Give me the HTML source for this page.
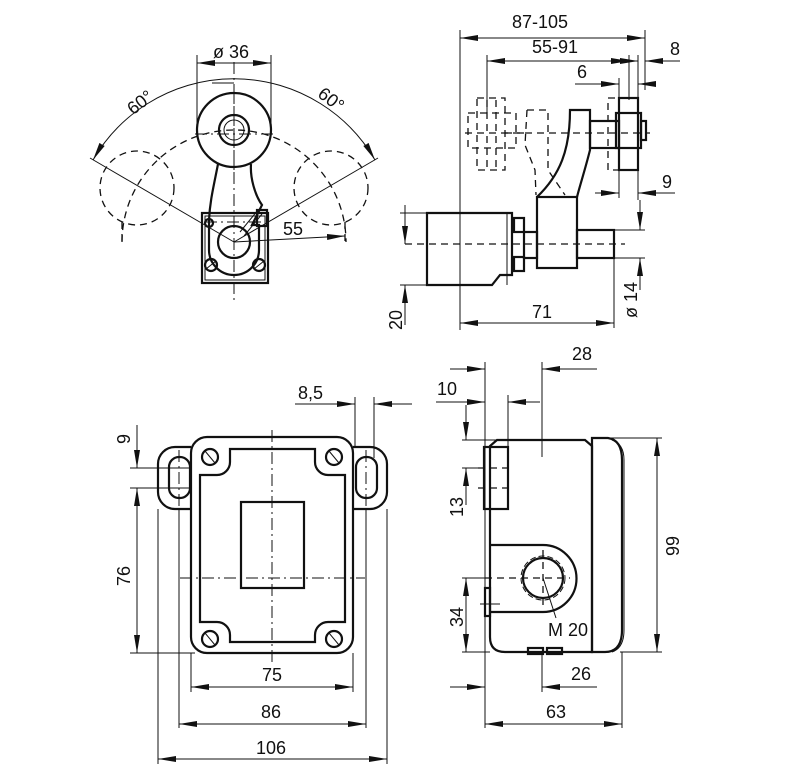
<!DOCTYPE html>
<html><head><meta charset="utf-8"><style>
html,body{margin:0;padding:0;background:#fff}
svg{display:block}
text{font-family:"Liberation Sans",sans-serif;font-size:18px;fill:#111}
.t{stroke:#111;stroke-width:2.2;fill:none}
.th{stroke:#111;stroke-width:1;fill:none}
.d{stroke:#111;stroke-width:1.3;fill:none;stroke-dasharray:7 5}
.c{stroke:#111;stroke-width:1;fill:none;stroke-dasharray:12 4 2 4}
.dm{stroke:#111;stroke-width:1;fill:none;marker-start:url(#a);marker-end:url(#a)}
.dr{stroke:#111;stroke-width:1;fill:none;marker-end:url(#a)}
</style></head><body>
<svg width="805" height="783" viewBox="0 0 805 783" xmlns="http://www.w3.org/2000/svg">
<defs><marker id="a" viewBox="0 0 18 6" refX="18" refY="3" markerWidth="18" markerHeight="6" markerUnits="userSpaceOnUse" orient="auto-start-reverse"><path d="M0,0 L18,3 L0,6 z" fill="#111"/></marker></defs>

<!-- ===== TOP LEFT: lever view ===== -->
<line class="c" x1="234" y1="62" x2="234" y2="300"/>
<line class="th" x1="197" y1="55" x2="197" y2="130"/>
<line class="th" x1="271" y1="55" x2="271" y2="130"/>
<line class="dm" x1="197" y1="63" x2="271" y2="63"/>
<text x="213" y="58">ø 36</text>
<!-- 60 deg arc -->
<path class="th" d="M93,160 A163,163 0 0 1 375,160" style="marker-start:url(#a);marker-end:url(#a)"/>
<line class="dr" x1="234" y1="83" x2="212" y2="83" style="marker-end:none"/>
<line class="th" x1="234" y1="242" x2="90" y2="158"/>
<line class="th" x1="234" y1="242" x2="378" y2="158"/>
<text x="125" y="108" transform="rotate(-38 140 100)">60°</text>
<text x="318" y="108" transform="rotate(38 335 100)">60°</text>
<!-- dashed alt rollers -->
<circle class="d" cx="137" cy="188" r="37"/>
<circle class="d" cx="331" cy="188" r="37"/>
<path class="d" d="M122,242 A112,112 0 0 1 346,242"/>
<line class="d" x1="122" y1="222" x2="122" y2="245"/>
<line class="d" x1="345" y1="222" x2="345" y2="245"/>
<line class="dr" x1="234" y1="242" x2="345" y2="236"/>
<text x="283" y="235">55</text>
<!-- base plate -->
<rect class="t" x="202" y="213" width="66" height="70"/>
<rect class="th" x="205" y="216" width="60" height="64"/>
<circle class="t" cx="211" cy="265" r="6"/><line class="th" x1="206" y1="269" x2="216" y2="261"/>
<circle class="t" cx="259" cy="265" r="6"/><line class="th" x1="254" y1="269" x2="264" y2="261"/>
<!-- lever -->
<path class="t" d="M218,164 C214,185 210,200 209,220 L209,250 A25,25 0 0 0 259,250 L259,225 L252,225 L262,205 C255,195 250,178 251,164"/>
<circle class="t" cx="234" cy="242" r="16"/>
<line class="th" x1="240" y1="232" x2="258" y2="210"/><line class="th" x1="244" y1="236" x2="262" y2="214"/>
<rect class="t" x="257" y="210" width="10" height="16"/>
<circle class="t" cx="209" cy="223" r="4"/>
<line class="c" x1="205" y1="222" x2="265" y2="222"/>
<!-- roller -->
<circle class="t" cx="234" cy="130" r="37" fill="#fff"/>
<circle class="t" cx="234" cy="130" r="15"/>
<circle class="th" cx="234" cy="130" r="10"/>
<line class="c" x1="195" y1="134" x2="273" y2="134"/>
<line class="c" x1="234" y1="92" x2="234" y2="175"/>

<!-- ===== TOP RIGHT: side view ===== -->
<line class="th" x1="460" y1="30" x2="460" y2="330"/>
<line class="th" x1="645" y1="30" x2="645" y2="90"/>
<line class="dm" x1="460" y1="38" x2="645" y2="38"/>
<text x="512" y="28">87-105</text>
<line class="th" x1="487" y1="55" x2="487" y2="115"/>
<line class="dm" x1="487" y1="61" x2="629" y2="61"/>
<text x="532" y="53">55-91</text>
<line class="dr" x1="680" y1="61" x2="645" y2="61"/>
<line class="th" x1="629" y1="61" x2="638" y2="61" style="marker-end:url(#a)"/>
<text x="670" y="55">8</text>
<line class="th" x1="638" y1="55" x2="638" y2="200"/>
<line class="th" x1="629" y1="55" x2="629" y2="100"/>
<line class="dr" x1="575" y1="84" x2="619" y2="84"/>
<line class="dr" x1="650" y1="84" x2="638" y2="84"/>
<text x="577" y="78">6</text>
<line class="th" x1="619" y1="78" x2="619" y2="198"/>
<line class="dr" x1="595" y1="193" x2="619" y2="193"/>
<line class="dr" x1="675" y1="193" x2="638" y2="193"/>
<text x="662" y="188">9</text>
<!-- dashed ghost -->
<rect class="d" x="477" y="98" width="28" height="72"/>
<rect class="d" x="468" y="113" width="48" height="35"/>
<line class="d" x1="487" y1="100" x2="487" y2="170"/>
<line class="d" x1="496" y1="100" x2="496" y2="170"/>
<path class="d" d="M527,110 L548,110 L548,170 L565,195 M527,110 L525,145 L535,170 L536,195"/>
<line class="d" x1="505" y1="133" x2="528" y2="133"/>
<rect class="d" x="608" y="98" width="30" height="72"/>
<!-- center lines -->
<line class="d" x1="465" y1="133" x2="650" y2="133"/>
<line class="d" x1="405" y1="244" x2="625" y2="244"/>
<!-- housing -->
<path class="t" d="M427,213 L512,213 L512,275 L500,275 L492,285 L427,285 Z"/>
<line class="th" x1="507" y1="213" x2="507" y2="285"/>
<rect class="t" x="514" y="218" width="10" height="14"/>
<rect class="t" x="514" y="257" width="10" height="14"/>
<rect class="t" x="524" y="232" width="13" height="26"/>
<rect class="t" x="537" y="197" width="40" height="71"/>
<rect class="t" x="577" y="230" width="37" height="28"/>
<path class="t" d="M537,197 C560,175 570,150 570,110 L590,110 L590,150 C585,170 580,185 577,197"/>
<rect class="t" x="590" y="121" width="29" height="27"/>
<rect class="t" x="619" y="98" width="19" height="72"/>
<rect class="t" x="616" y="113" width="25" height="35"/>
<rect class="t" x="641" y="121" width="5" height="19"/>
<!-- 20 and ø14 -->
<line class="th" x1="400" y1="213" x2="427" y2="213"/>
<line class="th" x1="400" y1="285" x2="427" y2="285"/>
<line class="dr" x1="405" y1="205" x2="405" y2="244" style="marker-end:none"/>
<line class="dr" x1="405" y1="226" x2="405" y2="244"/>
<line class="dr" x1="405" y1="325" x2="405" y2="285"/>
<text x="0" y="0" transform="translate(402,330) rotate(-90)">20</text>
<line class="th" x1="614" y1="230" x2="645" y2="230"/>
<line class="th" x1="614" y1="258" x2="645" y2="258"/>
<line class="dr" x1="640" y1="200" x2="640" y2="230"/>
<line class="dr" x1="640" y1="290" x2="640" y2="258"/>
<text x="0" y="0" transform="translate(637,318) rotate(-90)">ø 14</text>
<line class="th" x1="614" y1="258" x2="614" y2="328"/>
<line class="dm" x1="460" y1="323" x2="614" y2="323"/>
<text x="532" y="318">71</text>

<!-- ===== BOTTOM LEFT: front view ===== -->
<line class="c" x1="272" y1="430" x2="272" y2="665"/>
<line class="c" x1="180" y1="578" x2="365" y2="578"/>
<!-- lugs -->
<path class="t" d="M191,447 L175,447 A17,17 0 0 0 158,464 L158,492 A17,17 0 0 0 175,509 L191,509"/>
<rect class="t" x="169" y="457" width="21" height="41" rx="10"/>
<path class="t" d="M353,447 L370,447 A17,17 0 0 1 387,464 L387,492 A17,17 0 0 1 370,509 L353,509"/>
<rect class="t" x="356" y="457" width="21" height="41" rx="10"/>
<line class="c" x1="179" y1="450" x2="179" y2="508"/>
<line class="c" x1="366" y1="450" x2="366" y2="508"/>
<!-- body -->
<rect class="t" x="191" y="437" width="162" height="216" rx="16" fill="#fff"/>
<path class="t" d="M230,449 L315,449 L315,462 A13,13 0 0 0 328,475 L345,475 L345,622 L328,622 A13,13 0 0 0 315,635 L315,642 L230,642 L230,635 A13,13 0 0 0 217,622 L200,622 L200,475 L217,475 A13,13 0 0 0 230,462 Z"/>
<rect class="t" x="241" y="502" width="63" height="86"/>
<g class="t">
<circle cx="210" cy="457" r="8"/><circle cx="334" cy="457" r="8"/>
<circle cx="210" cy="639" r="8"/><circle cx="334" cy="639" r="8"/>
</g>
<g class="th">
<line x1="205" y1="451" x2="215" y2="463"/><line x1="329" y1="451" x2="339" y2="463"/>
<line x1="205" y1="633" x2="215" y2="645"/><line x1="329" y1="633" x2="339" y2="645"/>
</g>
<!-- dims -->
<line class="th" x1="130" y1="468" x2="190" y2="468"/>
<line class="th" x1="130" y1="488" x2="190" y2="488"/>
<line class="th" x1="130" y1="653" x2="195" y2="653"/>
<line class="dr" x1="137" y1="425" x2="137" y2="468"/>
<line class="dm" x1="137" y1="488" x2="137" y2="653"/>
<text x="0" y="0" transform="translate(130,444) rotate(-90)">9</text>
<text x="0" y="0" transform="translate(130,586) rotate(-90)">76</text>
<line class="th" x1="355" y1="397" x2="355" y2="448"/>
<line class="th" x1="374" y1="397" x2="374" y2="458"/>
<line class="dr" x1="295" y1="404" x2="355" y2="404"/>
<line class="dr" x1="412" y1="404" x2="374" y2="404"/>
<text x="298" y="399">8,5</text>
<line class="th" x1="158" y1="509" x2="158" y2="764"/>
<line class="th" x1="179" y1="508" x2="179" y2="728"/>
<line class="th" x1="191" y1="653" x2="191" y2="692"/>
<line class="th" x1="353" y1="653" x2="353" y2="692"/>
<line class="th" x1="366" y1="508" x2="366" y2="728"/>
<line class="th" x1="387" y1="509" x2="387" y2="764"/>
<line class="dm" x1="191" y1="687" x2="353" y2="687"/>
<text x="262" y="681">75</text>
<line class="dm" x1="179" y1="724" x2="366" y2="724"/>
<text x="261" y="718">86</text>
<line class="dm" x1="158" y1="759" x2="387" y2="759"/>
<text x="256" y="754">106</text>

<!-- ===== BOTTOM RIGHT: side view ===== -->
<line class="th" x1="485" y1="362" x2="485" y2="728"/>
<line class="th" x1="542" y1="362" x2="542" y2="455"/>
<line class="dr" x1="450" y1="369" x2="485" y2="369"/>
<line class="dr" x1="597" y1="369" x2="542" y2="369"/>
<text x="572" y="360">28</text>
<line class="th" x1="508" y1="395" x2="508" y2="447"/>
<line class="dr" x1="436" y1="402" x2="485" y2="402"/>
<line class="dr" x1="540" y1="402" x2="508" y2="402"/>
<text x="437" y="395">10</text>
<!-- body -->
<path class="t" d="M497,440 L585,440 L592,446 L592,652 L505,652 Q490,652 490,637 L490,446 Z"/>
<line class="th" x1="497" y1="440" x2="585" y2="440"/>
<path class="t" d="M592,438 L608,438 Q622,440 622,460 L622,630 Q622,652 605,652 L592,652 Z"/>
<path class="th" d="M612,440 Q624,444 624,460 L624,630 Q624,648 612,652"/>
<rect class="t" x="484" y="447" width="24" height="62" fill="#fff"/>
<line class="d" x1="478" y1="468" x2="510" y2="468"/>
<line class="d" x1="478" y1="488" x2="510" y2="488"/>
<line class="th" x1="542" y1="450" x2="542" y2="457"/>
<path class="t" d="M490,545 L543,545 A33,33 0 0 1 543,612 L490,612"/>
<circle class="t" cx="543" cy="578" r="20"/>
<circle class="th" cx="543" cy="578" r="22" stroke-dasharray="6 3"/>
<rect class="t" x="485" y="588" width="5" height="28"/>
<line class="d" x1="485" y1="578" x2="570" y2="578"/>
<line class="d" x1="543" y1="550" x2="543" y2="608"/>
<line class="th" x1="480" y1="604" x2="500" y2="604"/>
<line class="th" x1="543" y1="578" x2="556" y2="618"/>
<text x="548" y="636">M 20</text>
<rect class="t" x="528" y="648" width="15" height="6"/>
<rect class="t" x="547" y="648" width="15" height="6"/>
<!-- 13,34 -->
<line class="th" x1="462" y1="440" x2="500" y2="440"/>
<line class="th" x1="462" y1="468" x2="485" y2="468"/>
<line class="dr" x1="466" y1="405" x2="466" y2="440"/>
<line class="dr" x1="466" y1="505" x2="466" y2="468"/>
<text x="0" y="0" transform="translate(463,517) rotate(-90)">13</text>
<line class="th" x1="462" y1="578" x2="490" y2="578"/>
<line class="th" x1="462" y1="652" x2="490" y2="652"/>
<line class="dm" x1="466" y1="578" x2="466" y2="652"/>
<text x="0" y="0" transform="translate(463,627) rotate(-90)">34</text>
<!-- 99 -->
<line class="th" x1="610" y1="438" x2="662" y2="438"/>
<line class="th" x1="620" y1="652" x2="662" y2="652"/>
<line class="dm" x1="657" y1="438" x2="657" y2="652"/>
<text x="0" y="0" transform="translate(679,556) rotate(-90)">99</text>
<!-- 26, 63 -->
<line class="th" x1="542" y1="654" x2="542" y2="692"/>
<line class="th" x1="622" y1="652" x2="622" y2="728"/>
<line class="dr" x1="450" y1="687" x2="485" y2="687"/>
<line class="dr" x1="597" y1="687" x2="542" y2="687"/>
<text x="571" y="680">26</text>
<line class="dm" x1="485" y1="724" x2="622" y2="724"/>
<text x="546" y="718">63</text>
</svg>
</body></html>
